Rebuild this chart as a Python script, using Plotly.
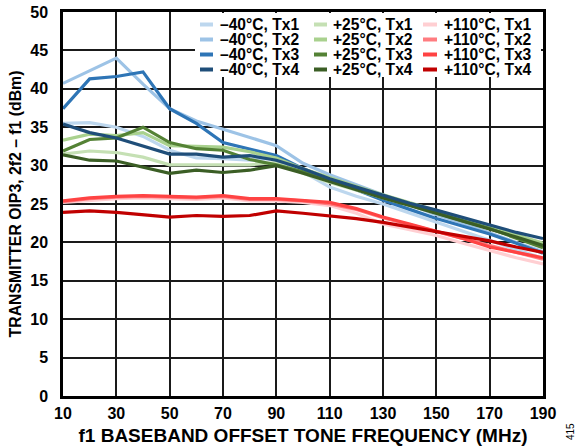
import plotly.graph_objects as go

# ---------------- data ----------------
freq = [10, 20, 30, 40, 50, 60, 70, 80, 90, 100, 110, 120, 130, 140, 150, 160, 170, 180, 190]

m40_tx1 = [35.5, 35.6, 35.0, 33.8, 32.0, 31.0, 30.9, 30.7, 31.0, 29.2, 27.2, 26.0, 25.0, 23.8, 22.6, 21.4, 20.2, 19.0, 17.9]
m40_tx2 = [40.7, 42.4, 44.0, 40.6, 37.4, 35.8, 34.7, 33.7, 32.6, 30.3, 28.8, 27.5, 26.2, 25.0, 23.6, 22.5, 21.2, 20.0, 18.8]
m40_tx3 = [37.4, 41.3, 41.6, 42.2, 37.4, 35.5, 33.0, 32.2, 31.3, 29.6, 28.2, 26.8, 25.5, 24.3, 23.1, 22.1, 21.1, 19.9, 18.6]
m40_tx4 = [35.4, 34.3, 33.6, 32.6, 31.5, 31.5, 31.1, 31.3, 30.7, 29.6, 28.3, 27.2, 26.1, 25.1, 24.2, 23.2, 22.2, 21.3, 20.5]

p25_tx1 = [31.5, 31.9, 31.7, 31.1, 30.1, 30.1, 30.0, 30.1, 30.4, 29.0, 27.8, 26.8, 25.7, 24.7, 23.7, 22.8, 21.8, 20.8, 19.8]
p25_tx2 = [33.3, 34.1, 33.9, 34.3, 32.6, 32.5, 32.4, 31.8, 31.0, 29.6, 28.4, 27.3, 26.2, 25.2, 24.1, 23.1, 22.1, 21.0, 19.9]
p25_tx3 = [31.9, 33.4, 33.6, 35.0, 33.0, 32.2, 32.0, 30.8, 30.1, 29.2, 28.0, 26.9, 25.9, 24.9, 23.8, 22.8, 21.8, 20.6, 19.3]
p25_tx4 = [31.4, 30.7, 30.6, 29.8, 29.0, 29.4, 29.1, 29.4, 30.0, 29.0, 27.9, 26.9, 25.8, 24.8, 23.8, 22.8, 21.7, 20.7, 19.6]

p110_tx1 = [25.2, 25.5, 25.7, 25.8, 25.7, 25.6, 25.8, 25.4, 25.4, 25.2, 24.8, 23.8, 22.4, 21.6, 20.9, 19.9, 18.9, 18.0, 17.2]
p110_tx2 = [25.3, 25.7, 25.9, 26.0, 25.9, 25.8, 26.0, 25.6, 25.6, 25.4, 25.0, 24.3, 23.2, 22.3, 21.4, 20.4, 19.5, 18.6, 17.8]
p110_tx3 = [25.4, 25.8, 26.0, 26.1, 26.0, 25.9, 26.1, 25.7, 25.7, 25.5, 25.2, 24.4, 23.3, 22.4, 21.5, 20.5, 19.4, 18.7, 18.0]
p110_tx4 = [23.9, 24.1, 23.9, 23.6, 23.3, 23.5, 23.4, 23.5, 24.1, 23.8, 23.5, 23.1, 22.6, 22.0, 21.3, 20.7, 20.2, 19.4, 18.7]

series_names = [
    ["–40°C, Tx1", "–40°C, Tx2", "–40°C, Tx3", "–40°C, Tx4"],
    ["+25°C, Tx1", "+25°C, Tx2", "+25°C, Tx3", "+25°C, Tx4"],
    ["+110°C, Tx1", "+110°C, Tx2", "+110°C, Tx3", "+110°C, Tx4"],
]
series_values = [
    [m40_tx1, m40_tx2, m40_tx3, m40_tx4],
    [p25_tx1, p25_tx2, p25_tx3, p25_tx4],
    [p110_tx1, p110_tx2, p110_tx3, p110_tx4],
]
series_colors = [
    ["#bdd7ee", "#9dc3e6", "#2e75b6", "#1f4e79"],
    ["#c5e0b4", "#a9d18e", "#548235", "#3b5e25"],
    ["#ffcfd2", "#ff7c80", "#ff4343", "#c00000"],
]

x_ticks = [10, 30, 50, 70, 90, 110, 130, 150, 170, 190]
y_ticks = [0, 5, 10, 15, 20, 25, 30, 35, 40, 45, 50]

FONT = "Liberation Sans, Arial, sans-serif"
W, H = 582, 446
ML, MR, MT, MB = 63, 39, 12, 50
PW, PH = W - ML - MR, H - MT - MB
PLOT_LEFT, PLOT_BOTTOM = ML, H - MB

fig = go.Figure()

draw_order = [(0, 0), (0, 1), (0, 2), (1, 0), (1, 1), (1, 2), (1, 3), (2, 0), (2, 1), (2, 2), (2, 3), (0, 3)]
for g, i in draw_order:
    fig.add_trace(go.Scatter(
        x=freq, y=series_values[g][i], mode="lines", name=series_names[g][i],
        line=dict(color=series_colors[g][i], width=3.2), showlegend=False,
    ))

def px2paper_x(px):
    return (px - PLOT_LEFT) / PW

def px2paper_y(py):
    return (PLOT_BOTTOM - py) / PH

shapes = []
annotations = []
# legend background
shapes.append(dict(type="rect", xref="paper", yref="paper", layer="above",
                   x0=px2paper_x(195), x1=px2paper_x(541), y0=px2paper_y(77), y1=px2paper_y(13),
                   fillcolor="white", line=dict(width=0)))
col_line_x = [(200, 213), (314, 327), (423, 437)]
col_text_x = [218, 331, 442]
row_y = [24.5, 39.5, 54.5, 69.5]
for g in range(3):
    for i in range(4):
        yy = px2paper_y(row_y[i])
        shapes.append(dict(type="line", xref="paper", yref="paper", layer="above",
                           x0=px2paper_x(col_line_x[g][0]), x1=px2paper_x(col_line_x[g][1]),
                           y0=yy, y1=yy, line=dict(color=series_colors[g][i], width=4)))
        annotations.append(dict(xref="paper", yref="paper", x=px2paper_x(col_text_x[g]), y=yy,
                                xanchor="left", yanchor="middle", showarrow=False,
                                text=series_names[g][i],
                                font=dict(family=FONT, size=15.6, color="black", weight="bold")))

annotations.append(dict(xref="paper", yref="paper", x=px2paper_x(570), y=px2paper_y(432),
                        xanchor="center", yanchor="middle", showarrow=False, textangle=-90,
                        text="415", font=dict(family=FONT, size=10, color="black")))

fig.update_layout(
    width=W, height=H,
    margin=dict(l=ML, r=MR, t=MT, b=MB, pad=0, autoexpand=False),
    paper_bgcolor="white", plot_bgcolor="white",
    shapes=shapes, annotations=annotations,
    font=dict(family=FONT, color="black"),
)
fig.update_xaxes(
    range=[10, 190], tickvals=x_ticks, ticktext=[str(v) for v in x_ticks],
    showgrid=True, gridcolor="#1a1a1a", gridwidth=1.6, automargin=False,
    showline=True, linecolor="black", linewidth=2.5, mirror=True,
    ticks="", ticklabelstandoff=1, zeroline=False,
    tickfont=dict(family=FONT, size=16, color="black", weight="bold"),
    title=dict(text="f1 BASEBAND OFFSET TONE FREQUENCY (MHz)", standoff=12,
               font=dict(family=FONT, size=19, color="black", weight="bold")),
)
fig.update_yaxes(
    range=[0, 50], tickvals=y_ticks, ticktext=[str(v) for v in y_ticks],
    showgrid=True, gridcolor="#1a1a1a", gridwidth=1.6, automargin=False,
    showline=True, linecolor="black", linewidth=2.5, mirror=True,
    ticks="", ticklabelstandoff=9, zeroline=False,
    tickfont=dict(family=FONT, size=16, color="black", weight="bold"),
    title=dict(text="TRANSMITTER OIP3, 2f2 – f1 (dBm)", standoff=5,
               font=dict(family=FONT, size=15.8, color="black", weight="bold")),
)

# remove the browser's default 8 px body margin so the 582x446 figure fills the window
fig.write_html("out.html", config={"displayModeBar": False},
               post_script="document.body.style.margin='0';")
